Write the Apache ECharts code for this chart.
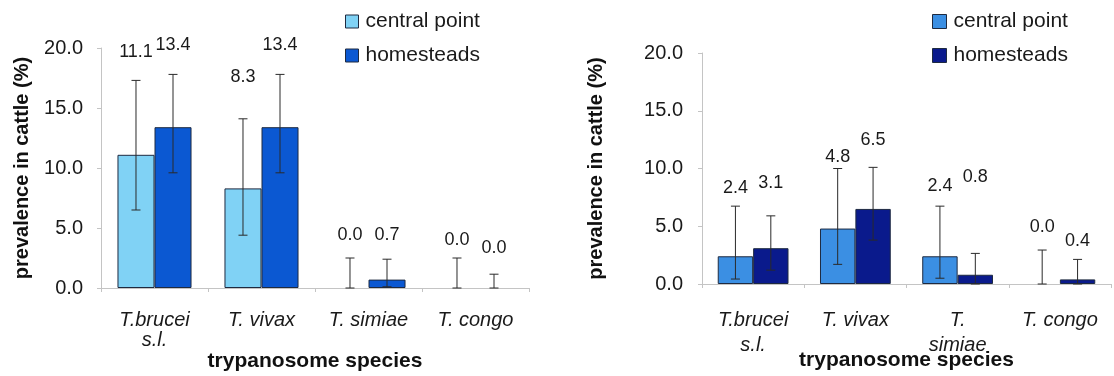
<!DOCTYPE html>
<html>
<head>
<meta charset="utf-8">
<script src="https://cdn.jsdelivr.net/npm/echarts@6/dist/echarts.min.js"></script>
<style>
html,body{margin:0;padding:0;background:#fff;}
#chart{width:1114px;height:376px;}
</style>
</head>
<body>
<div id="chart"></div>
<script>
// ---- data ----
const categoriesLeft = ['T.brucei\ns.l.', 'T. vivax', 'T. simiae', 'T. congo'];
const categoriesRight = ['T.brucei\ns.l.', 'T. vivax', 'T.\nsimiae', 'T. congo'];
const seriesNames = ['central point', 'homesteads'];
const yTicks = [0, 5, 10, 15, 20];

const leftCentral = [11.1, 8.3, 0.0, 0.0];
const leftHome = [13.4, 13.4, 0.7, 0.0];
const leftCentralLow = [6.5, 4.4, 0.0, 0.0];
const leftCentralHigh = [17.3, 14.1, 2.5, 2.5];
const leftHomeLow = [9.6, 9.6, 0.1, 0.0];
const leftHomeHigh = [17.8, 17.8, 2.4, 1.15];
const leftCentralLabelAt = [19.7, 17.6, 4.4, 4.0];
const leftHomeLabelAt = [20.25, 20.25, 4.4, 3.3];

const rightCentral = [2.4, 4.8, 2.4, 0.0];
const rightHome = [3.1, 6.5, 0.8, 0.4];
const rightCentralLow = [0.43, 1.7, 0.5, 0.0];
const rightCentralHigh = [6.74, 10.0, 6.74, 2.94];
const rightHomeLow = [1.2, 3.8, 0.0, 0.0];
const rightHomeHigh = [5.9, 10.1, 2.65, 2.13];
const rightCentralLabelAt = [8.3, 11.0, 8.5, 4.95];
const rightHomeLabelAt = [8.75, 12.5, 9.3, 3.7];

// ---- styles ----
const FONT = '"Liberation Sans", Arial, sans-serif';
const BAR_FRAC = 0.346;
const C_LEFT = ['#80d2f5', '#0b58d2'];
const C_RIGHT = ['#3b8fe3', '#0a1a8c'];
const BORDER = '#1e2a40';
const AXIS = '#c4c4c4';

function errRender(side) {
  return function (params, api) {
    const i = api.value(0), lo = api.value(1), hi = api.value(2), ly = api.value(3), v = api.value(4);
    const band = api.size([1, 0])[0];
    const dx = side * band * BAR_FRAC / 2;
    const t = api.coord([i, hi]), b = api.coord([i, lo]), l = api.coord([i, ly]);
    const x = t[0] + dx, cap = 4.5;
    const ls = {stroke: '#2a2a2a', lineWidth: 1};
    return {
      type: 'group',
      children: [
        {type: 'line', shape: {x1: x, y1: t[1], x2: x, y2: b[1]}, style: ls},
        {type: 'line', shape: {x1: x - cap, y1: t[1], x2: x + cap, y2: t[1]}, style: ls},
        {type: 'line', shape: {x1: x - cap, y1: b[1], x2: x + cap, y2: b[1]}, style: ls},
        {type: 'text', x: x, y: l[1], style: {text: v.toFixed(1), fill: '#1a1a1a', fontSize: 18, fontFamily: FONT, align: 'center', verticalAlign: 'middle'}}
      ]
    };
  };
}
function errData(lo, hi, la, val) {
  return val.map((v, i) => [i, lo[i], hi[i], la[i], v]);
}

function yAxis(gridIndex, gap, margin) {
  return {
    type: 'value', gridIndex, min: 0, max: 20, interval: 5,
    name: 'prevalence in cattle (%)', nameLocation: 'middle', nameGap: gap, nameMoveOverlap: false,
    nameTextStyle: {fontSize: 20, fontWeight: 'bold', color: '#111', fontFamily: FONT},
    axisLine: {show: true, lineStyle: {color: AXIS}},
    axisTick: {show: true, length: 4, lineStyle: {color: AXIS}},
    splitLine: {show: false},
    axisLabel: {margin, fontSize: 20, color: '#1a1a1a', fontFamily: FONT, formatter: v => v.toFixed(1),
      customValues: yTicks}
  };
}
function xAxis(gridIndex, cats, gap, margin, lh) {
  return {
    type: 'category', gridIndex, data: cats,
    name: 'trypanosome species', nameLocation: 'middle', nameGap: gap, nameMoveOverlap: false,
    nameTextStyle: {fontSize: 21, fontWeight: 'bold', color: '#111', fontFamily: FONT},
    axisLine: {lineStyle: {color: AXIS}},
    axisTick: {show: true, length: 4, lineStyle: {color: AXIS}},
    axisLabel: {margin, fontSize: 20, fontStyle: 'italic', color: '#1a1a1a', fontFamily: FONT, lineHeight: lh, interval: 0}
  };
}
function legend(left, top, colors, size) {
  return {
    orient: 'vertical', left, top, icon: 'rect', itemWidth: size, itemHeight: size, itemGap: 13,
    selectedMode: false,
    textStyle: {fontSize: 21, color: '#1a1a1a', fontFamily: FONT, padding: [0, 0, 0, 2]},
    data: seriesNames.map((n, k) => ({name: n, itemStyle: {color: colors[k], borderColor: BORDER, borderWidth: 1}}))
  };
}
function bar(name, xi, data, color) {
  return {type: 'bar', name, xAxisIndex: xi, yAxisIndex: xi,
    data: data.map(v => (v === 0 ? null : v)),
    barWidth: (BAR_FRAC * 100) + '%', barGap: '0%',
    itemStyle: {color, borderColor: BORDER, borderWidth: 1}, silent: true, animation: false};
}
function err(xi, side, data) {
  return {type: 'custom', xAxisIndex: xi, yAxisIndex: xi, renderItem: errRender(side), data, z: 5, silent: true, animation: false, clip: false};
}

const chart = echarts.init(document.getElementById('chart'), null, {renderer: 'canvas'});
chart.setOption({
  backgroundColor: '#fff',
  animation: false,
  grid: [
    {left: 101, top: 48, width: 428, height: 240, containLabel: false, outerBoundsMode: 'none'},
    {left: 702, top: 53, width: 409, height: 231, containLabel: false, outerBoundsMode: 'none'}
  ],
  legend: [legend(340, 6, C_LEFT, 13), legend(927, 6, C_RIGHT, 14)],
  xAxis: [xAxis(0, categoriesLeft, 63, 22, 20), xAxis(1, categoriesRight, 66, 24, 25)],
  yAxis: [yAxis(0, 69, 18), yAxis(1, 96, 19)],
  series: [
    bar(seriesNames[0], 0, leftCentral, C_LEFT[0]),
    bar(seriesNames[1], 0, leftHome, C_LEFT[1]),
    bar(seriesNames[0], 1, rightCentral, C_RIGHT[0]),
    bar(seriesNames[1], 1, rightHome, C_RIGHT[1]),
    err(0, -1, errData(leftCentralLow, leftCentralHigh, leftCentralLabelAt, leftCentral)),
    err(0, 1, errData(leftHomeLow, leftHomeHigh, leftHomeLabelAt, leftHome)),
    err(1, -1, errData(rightCentralLow, rightCentralHigh, rightCentralLabelAt, rightCentral)),
    err(1, 1, errData(rightHomeLow, rightHomeHigh, rightHomeLabelAt, rightHome))
  ]
});
</script>
</body>
</html>
